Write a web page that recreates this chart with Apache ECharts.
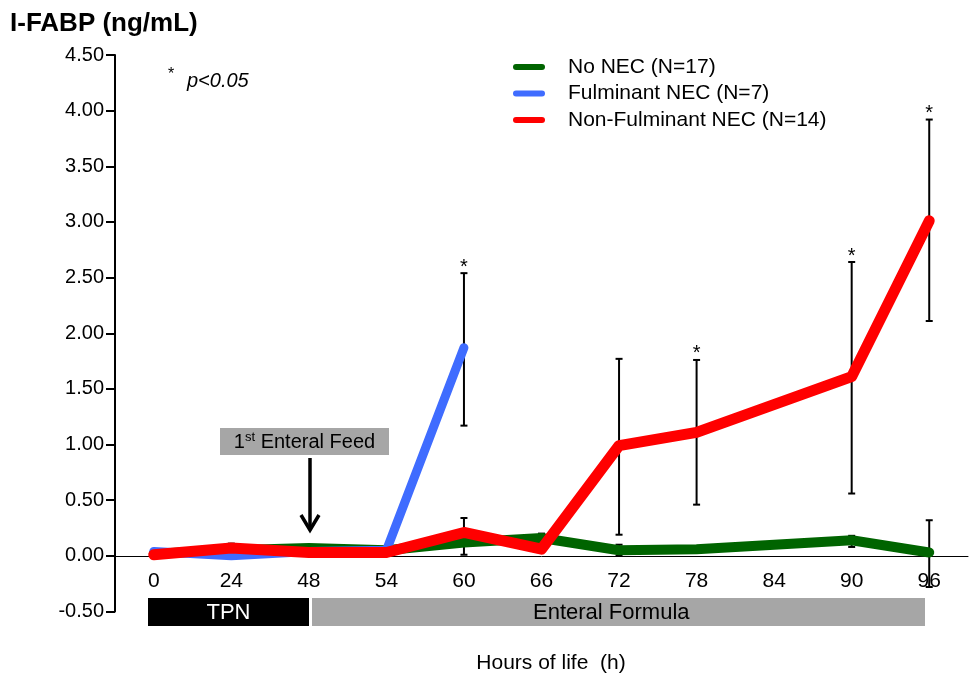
<!DOCTYPE html>
<html>
<head>
<meta charset="utf-8">
<script src="https://cdn.jsdelivr.net/npm/echarts@6/dist/echarts.min.js"></script>
<style>html,body{margin:0;padding:0;background:#fff}#c{width:970px;height:678px}</style>
</head>
<body>
<div id="c"></div>
<script>
// ---- data ----
const hours = ['0','24','48','54','60','66','72','78','84','90','96'];
const noNEC           = [0.02, 0.05, 0.07, 0.05, 0.12, 0.16, 0.05, 0.06, null, 0.14, 0.03];
const fulminantNEC    = [0.04, 0.00, 0.04, 0.05, 1.87, null, null, null, null, null, null];
const nonFulminantNEC = [0.01, 0.07, 0.03, 0.03, 0.21, 0.06, 0.99, 1.11, null, 1.61, 3.01];
const errHours = ['24','60','60','66','72','72','78','90','90','96','96'];
const errLow   = [0.00, 1.17, 0.01, 0.10, 0.19, 0.00, 0.46, 0.56, 0.08, 2.11, -0.28];
const errHigh  = [0.11, 2.54, 0.34, 0.20, 1.77, 0.10, 1.76, 2.64, 0.18, 3.92, 0.32];
const errSig   = [0, 1, 0, 0, 0, 0, 1, 1, 0, 1, 0];
const seriesNames = ['No NEC (N=17)', 'Fulminant NEC (N=7)', 'Non-Fulminant NEC (N=14)'];
const yMin = -0.5, yMax = 4.5, yStep = 0.5;

const FONT = '"Liberation Sans", Arial, sans-serif';
const chart = echarts.init(document.getElementById('c'));

const gridTop = 55, gridBottom = 66.5, H = 678;
const plotH = H - gridTop - gridBottom;
// shift the category axis up so it sits on y = 0
const zeroOffset = -plotH * (0 - yMin) / (yMax - yMin);

function lineSeries(name, data, color, width, z) {
  return {
    name, type: 'line', data, symbol: 'none', connectNulls: true, z,
    lineStyle: { color, width, cap: 'round', join: 'round' },
    itemStyle: { color },
    emphasis: { disabled: true }, silent: true
  };
}

const option = {
  animation: false,
  backgroundColor: '#fff',
  grid: { left: 115, right: 2, top: gridTop, bottom: gridBottom, containLabel: false },
  legend: {
    orient: 'vertical', left: 508, top: 51.5, itemGap: 5.5,
    itemWidth: 32, itemHeight: 6,
    icon: 'path://M3,0H29A3,3,0,0,1,29,6H3A3,3,0,0,1,3,0Z',
    data: seriesNames,
    selectedMode: false,
    textStyle: { fontFamily: FONT, fontSize: 21, color: '#000', lineHeight: 21, padding: [0, 0, 0, 18] }
  },
  xAxis: {
    type: 'category', data: hours, boundaryGap: true,
    offset: zeroOffset,
    axisLine: { onZero: false, lineStyle: { color: '#000', width: 1 } },
    axisTick: { show: false },
    axisLabel: { fontFamily: FONT, fontSize: 21, color: '#000', margin: 15, interval: 0 },
    splitLine: { show: false }
  },
  yAxis: {
    type: 'value', min: yMin, max: yMax, interval: yStep,
    axisLine: { show: true, onZero: false, lineStyle: { color: '#000', width: 2 } },
    axisTick: { show: true, inside: false, length: 9, lineStyle: { color: '#000', width: 2 } },
    axisLabel: { fontFamily: FONT, fontSize: 20, color: '#000', margin: 11, formatter: v => v.toFixed(2) },
    splitLine: { show: false }
  },
  series: [
    {
      type: 'custom', name: 'SEM', z: 1, silent: true,
      data: errHours.map((h, i) => [h, errLow[i], errHigh[i], errSig[i]]),
      encode: { x: 0, y: [1, 2] },
      renderItem: function (params, api) {
        const xi = api.value(0);
        const lo = api.coord([xi, api.value(1)]);
        const hi = api.coord([xi, api.value(2)]);
        const hw = 3.5;
        const st = { stroke: '#000', lineWidth: 2 };
        const children = [
          { type: 'line', shape: { x1: lo[0], y1: lo[1], x2: hi[0], y2: hi[1] }, style: st },
          { type: 'line', shape: { x1: hi[0] - hw, y1: hi[1], x2: hi[0] + hw, y2: hi[1] }, style: st },
          { type: 'line', shape: { x1: lo[0] - hw, y1: lo[1], x2: lo[0] + hw, y2: lo[1] }, style: st }
        ];
        if (api.value(3)) {
          children.push({ type: 'text', style: { text: '*', x: hi[0], y: hi[1] - 6, align: 'center', verticalAlign: 'middle', font: '20px ' + FONT, fill: '#000' } });
        }
        return { type: 'group', children };
      }
    },
    lineSeries(seriesNames[0], noNEC, '#006400', 10, 2),
    lineSeries(seriesNames[1], fulminantNEC, '#3f6cff', 9, 3),
    lineSeries(seriesNames[2], nonFulminantNEC, '#ff0000', 11, 4)
  ],
  graphic: [
    { type: 'text', left: 10, top: 11, style: { text: 'I-FABP (ng/mL)', font: 'bold 26px ' + FONT, fill: '#000' } },
    { type: 'text', x: 171, y: 75, style: { text: '*', font: '16px ' + FONT, fill: '#000', align: 'center', verticalAlign: 'middle' } },
    { type: 'text', x: 187, y: 81, style: { text: 'p<0.05', font: 'italic 20px ' + FONT, fill: '#000', align: 'left', verticalAlign: 'middle' } },
    // 1st enteral feed annotation
    { type: 'rect', shape: { x: 220, y: 428, width: 169, height: 27 }, style: { fill: '#a6a6a6' }, z: 10 },
    { type: 'text', x: 304.5, y: 442, z: 11, style: {
        text: '{n|1}{s|st}{n| Enteral Feed}', align: 'center', verticalAlign: 'middle',
        rich: {
          n: { font: '20px ' + FONT, fill: '#000', lineHeight: 22 },
          s: { font: '13px ' + FONT, fill: '#000', lineHeight: 22, verticalAlign: 'top' }
        } } },
    { type: 'line', shape: { x1: 310, y1: 458, x2: 310, y2: 530 }, style: { stroke: '#000', lineWidth: 3.5 }, z: 10 },
    { type: 'polyline', shape: { points: [[301, 515], [310, 530], [319, 515]] }, style: { stroke: '#000', lineWidth: 3.5, fill: null, lineJoin: 'miter' }, z: 10 },
    // phase bars
    { type: 'rect', shape: { x: 148, y: 598, width: 161, height: 28 }, style: { fill: '#000' }, z: 10 },
    { type: 'text', x: 228.5, y: 613, z: 11, style: { text: 'TPN', font: '22px ' + FONT, fill: '#fff', align: 'center', verticalAlign: 'middle' } },
    { type: 'rect', shape: { x: 312, y: 598, width: 613, height: 28 }, style: { fill: '#a6a6a6' }, z: 10 },
    { type: 'text', x: 533, y: 613, z: 11, style: { text: 'Enteral Formula', font: '22px ' + FONT, fill: '#000', align: 'left', verticalAlign: 'middle' } },
    // x-axis title
    { type: 'text', x: 551, y: 663, z: 11, style: { text: 'Hours of life  (h)', font: '21px ' + FONT, fill: '#000', align: 'center', verticalAlign: 'middle' } }
  ]
};
chart.setOption(option);
</script>
</body>
</html>
